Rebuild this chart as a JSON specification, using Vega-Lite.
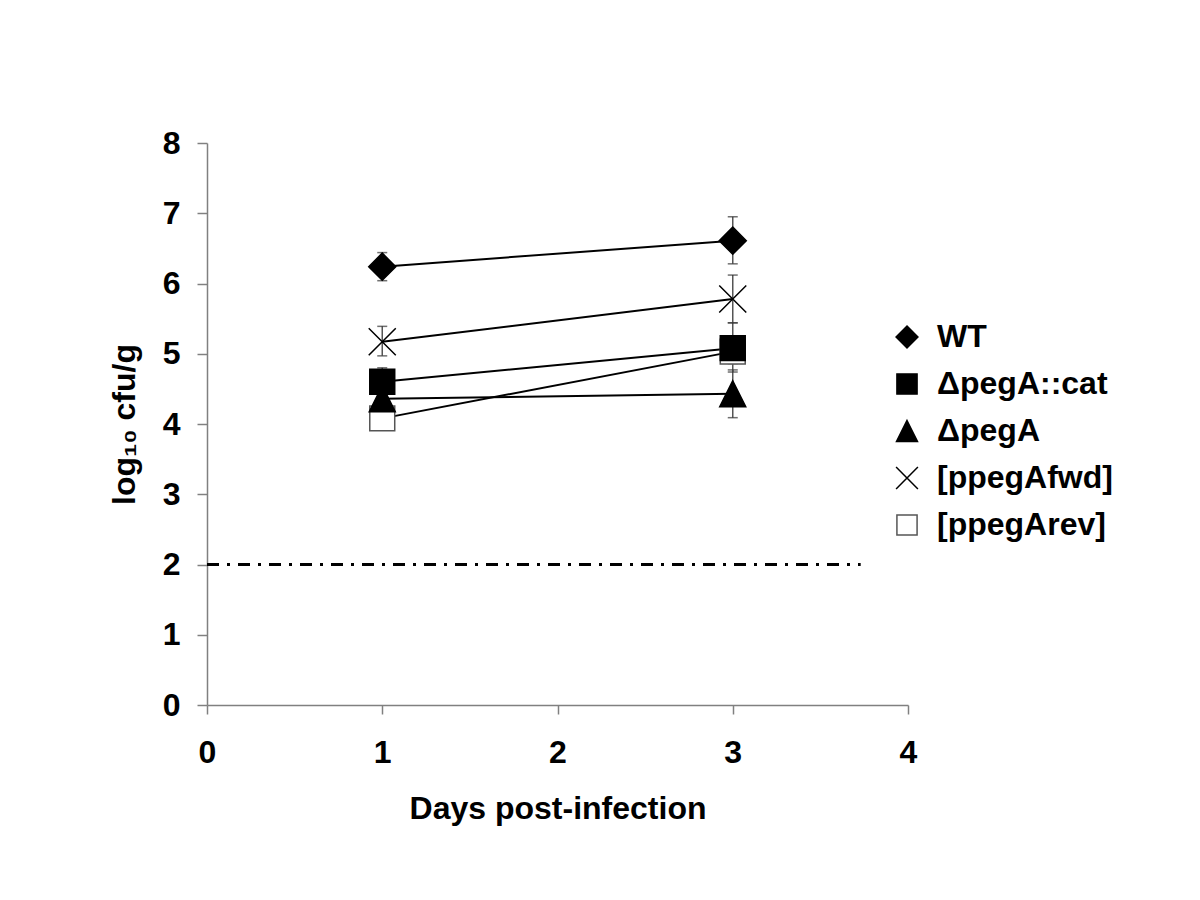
{
  "$schema": "https://vega.github.io/schema/vega-lite/v6.json",
  "width": 701,
  "height": 562,
  "autosize": "none",
  "padding": {"left": 207, "top": 143, "right": 292, "bottom": 195},
  "background": "white",
  "config": {
    "view": {"stroke": null},
    "font": "Liberation Sans",
    "axis": {
      "grid": false,
      "labelFlush": false,
      "domainColor": "#808080",
      "domainWidth": 1.5,
      "tickColor": "#808080",
      "tickWidth": 1.5,
      "labelFont": "Liberation Sans",
      "labelFontSize": 32,
      "labelFontWeight": "bold",
      "labelColor": "black",
      "titleFont": "Liberation Sans",
      "titleFontSize": 32,
      "titleFontWeight": "bold",
      "titleColor": "black"
    },
    "legend": {
      "labelFont": "Liberation Sans",
      "labelFontSize": 32,
      "labelFontWeight": "bold",
      "labelColor": "black",
      "labelLimit": 0
    }
  },
  "datasets": {
    "pts": [
      {"strain": "[ppegArev]", "day": 1, "mean": 4.08, "lo": 3.96, "hi": 4.2},
      {"strain": "[ppegArev]", "day": 3, "mean": 5.03, "lo": 4.86, "hi": 5.2},
      {"strain": "WT", "day": 1, "mean": 6.24, "lo": 6.04, "hi": 6.44},
      {"strain": "WT", "day": 3, "mean": 6.61, "lo": 6.28, "hi": 6.95},
      {"strain": "ΔpegA::cat", "day": 1, "mean": 4.6, "lo": 4.41, "hi": 4.8},
      {"strain": "ΔpegA::cat", "day": 3, "mean": 5.08, "lo": 4.74, "hi": 5.44},
      {"strain": "ΔpegA", "day": 1, "mean": 4.36, "lo": 4.2, "hi": 4.52},
      {"strain": "ΔpegA", "day": 3, "mean": 4.43, "lo": 4.09, "hi": 4.77},
      {"strain": "[ppegAfwd]", "day": 1, "mean": 5.17, "lo": 4.97, "hi": 5.39},
      {"strain": "[ppegAfwd]", "day": 3, "mean": 5.78, "lo": 5.44, "hi": 6.12}
    ],
    "limit": [{"x0": 0, "x1": 3.73, "y": 2}]
  },
  "layer": [
    {
      "data": {"name": "limit"},
      "mark": {"type": "rule", "color": "black", "strokeWidth": 3, "strokeDash": [12, 8, 3, 8]},
      "encoding": {
        "x": {"field": "x0", "type": "quantitative", "scale": {"domain": [0, 4]}},
        "x2": {"field": "x1"},
        "y": {"field": "y", "type": "quantitative", "scale": {"domain": [0, 8]}}
      }
    },
    {
      "data": {"name": "pts"},
      "mark": {"type": "line", "color": "black", "strokeWidth": 2},
      "encoding": {
        "x": {"field": "day", "type": "quantitative"},
        "y": {"field": "mean", "type": "quantitative"},
        "detail": {"field": "strain"}
      }
    },
    {
      "data": {"name": "pts"},
      "mark": {"type": "rule", "color": "#555555", "strokeWidth": 1.5},
      "encoding": {
        "x": {"field": "day", "type": "quantitative"},
        "y": {"field": "lo", "type": "quantitative"},
        "y2": {"field": "hi"}
      }
    },
    {
      "data": {"name": "pts"},
      "mark": {"type": "tick", "orient": "horizontal", "color": "#333333", "size": 10, "thickness": 1.5},
      "encoding": {
        "x": {"field": "day", "type": "quantitative"},
        "y": {"field": "lo", "type": "quantitative"}
      }
    },
    {
      "data": {"name": "pts"},
      "mark": {"type": "tick", "orient": "horizontal", "color": "#333333", "size": 10, "thickness": 1.5},
      "encoding": {
        "x": {"field": "day", "type": "quantitative"},
        "y": {"field": "hi", "type": "quantitative"}
      }
    },
    {
      "data": {"name": "pts"},
      "mark": {"type": "point", "size": 2704, "strokeWidth": 1.5, "opacity": 1},
      "encoding": {
        "x": {
          "field": "day", "type": "quantitative",
          "scale": {"domain": [0, 4]},
          "axis": {"values": [0, 1, 2, 3, 4], "format": "d", "tickSize": 9, "labelPadding": 23, "title": "Days post-infection", "titlePadding": 25}
        },
        "y": {
          "field": "mean", "type": "quantitative",
          "scale": {"domain": [0, 8]},
          "axis": {"values": [0, 1, 2, 3, 4, 5, 6, 7, 8], "format": "d", "tickSize": 10, "labelPadding": 17, "title": "log₁₀ cfu/g", "titlePadding": 21}
        },
        "shape": {
          "field": "strain", "type": "nominal",
          "scale": {
            "domain": ["WT", "ΔpegA::cat", "ΔpegA", "[ppegAfwd]", "[ppegArev]"],
            "range": [
              "M0,-0.52L0.52,0L0,0.52L-0.52,0Z",
              "M-0.48,-0.48H0.48V0.48H-0.48Z",
              "M0,-0.5L0.5,0.5L-0.5,0.5Z",
              "M-0.52,-0.52L0.52,0.52M-0.52,0.52L0.52,-0.52",
              "M-0.48,-0.48H0.48V0.48H-0.48Z"
            ]
          },
          "legend": {
            "title": null,
            "orient": "none",
            "legendX": 678,
            "legendY": 172,
            "padding": 0,
            "symbolSize": 1764,
            "symbolStrokeWidth": 1.5,
            "labelOffset": 8,
            "rowPadding": 9,
            "labelLimit": 0
          }
        },
        "fill": {
          "field": "strain", "type": "nominal",
          "legend": null,
          "scale": {
            "domain": ["WT", "ΔpegA::cat", "ΔpegA", "[ppegAfwd]", "[ppegArev]"],
            "range": ["black", "black", "black", "transparent", "white"]
          }
        },
        "stroke": {
          "field": "strain", "type": "nominal",
          "legend": null,
          "scale": {
            "domain": ["WT", "ΔpegA::cat", "ΔpegA", "[ppegAfwd]", "[ppegArev]"],
            "range": ["black", "black", "black", "black", "#555555"]
          }
        }
      }
    }
  ]
}
